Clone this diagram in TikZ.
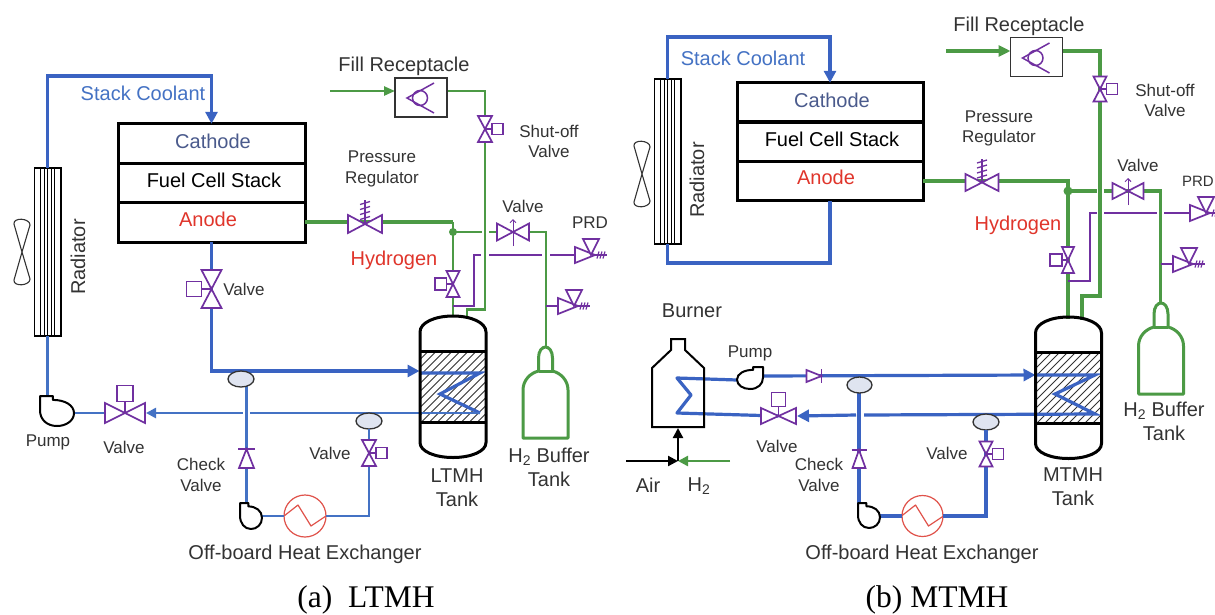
\documentclass[tikz,border=0pt]{standalone}
\usepackage{fontspec}
\setmainfont{Liberation Sans}
\newfontfamily\capfont{Liberation Serif}
\usetikzlibrary{arrows.meta,shapes.geometric}
\definecolor{cblue}{HTML}{3A63C2}
\definecolor{cbluet}{HTML}{4472C4}
\definecolor{cgreen}{HTML}{4C9A45}
\definecolor{cpurple}{HTML}{7030A0}
\definecolor{cred}{HTML}{E0352B}
\definecolor{chx}{HTML}{E0524A}
\definecolor{ctext}{HTML}{333333}
\definecolor{ccath}{HTML}{4A5A8C}
\definecolor{cell}{HTML}{DFE4F0}
\tikzset{
  pb/.style={draw=cblue,line width=3.2pt},
  pbt/.style={draw=cbluet,line width=2.5pt},
  pg/.style={draw=cgreen,line width=3.2pt},
  pgt/.style={draw=cgreen,line width=2.4pt},
  pp/.style={draw=cpurple,line width=2.4pt},
  sym/.style={draw=cpurple,line width=1.7pt,fill=white,line join=miter},
  blk/.style={draw=black,line width=2pt,line join=round},
  tipL/.style={-{Triangle[length=12pt,width=12pt]}},
  tipS/.style={-{Triangle[length=10pt,width=10pt]}},
  stackbox/.style={draw=black,line width=3pt,minimum width=187pt,minimum height=39.5pt,inner sep=0pt,outer sep=0pt},
  radbox/.style={draw=black,line width=1.5pt,minimum width=26.5pt,inner sep=0pt,outer sep=0pt},
  fillbox/.style={draw=ctext,line width=1.2pt,minimum width=52pt,minimum height=39pt,inner sep=0pt,outer sep=0pt,fill=white},
  oval/.style={ellipse,draw=ctext,line width=1.3pt,fill=cell,minimum width=26pt,minimum height=16pt,inner sep=0pt,outer sep=0pt},
  hxc/.style={circle,draw=chx,line width=1.2pt,fill=white,minimum size=42pt,inner sep=0pt,outer sep=0pt},
  lbl/.style={font=\fontsize{17}{20.5}\selectfont,text=ctext,inner sep=0pt,align=center},
  lbg/.style={font=\fontsize{20}{24}\selectfont,text=ctext,inner sep=0pt,align=center},
  capt/.style={font=\capfont\fontsize{31.5}{35}\selectfont,text=black,inner sep=0pt},
}
% vertical bowtie valve: name, pos, half width, half height, side (+1/-1), box size
\newcommand\vvalve[6]{%
  \coordinate (#1) at (#2);
  \begin{scope}[shift={(#2)}]
    \draw[sym] (0,0) -- ({#5*#3},0);
    \draw[sym] ({#5*#3},{-#6/2}) rectangle ({#5*(#3+#6)},{#6/2});
    \draw[sym] (-#3,-#4) -- (#3,-#4) -- (-#3,#4) -- (#3,#4) -- cycle;
  \end{scope}}
% horizontal bowtie: name, pos, half width, half height
\newcommand\hbow[4]{%
  \coordinate (#1) at (#2);
  \begin{scope}[shift={(#2)}]
    \draw[sym] (-#3,-#4) -- (#3,#4) -- (#3,-#4) -- (-#3,#4) -- cycle;
  \end{scope}}
% box on top of a horizontal bowtie: pos, half height, box size
\newcommand\topbox[3]{%
  \begin{scope}[shift={(#1)}]
    \draw[sym] (0,0) -- (0,{-#2-1.5});
    \draw[sym] ({-#3/2},{-#2-1.5}) rectangle ({#3/2},{-#2-1.5-#3});
  \end{scope}}
% regulator spring above a horizontal bowtie
\newcommand\spring[1]{%
  \begin{scope}[shift={(#1)}]
    \draw[cpurple,line width=1.5pt] (0,0) -- (0,-24);
    \foreach \k in {-6,-11,-16,-21} \draw[cpurple,line width=1.3pt] (-5,\k+1.5) -- (5,\k-1.5);
  \end{scope}}
% arrow through a horizontal bowtie
\newcommand\uparw[1]{%
  \draw[cpurple,line width=1pt,-{Straight Barb[length=3pt,width=6pt]}] ([shift={(0,14)}]#1) -- ([shift={(0,-13)}]#1);}
% pressure relief: name, tip position
\newcommand\prdv[2]{%
  \begin{scope}[shift={(#2)}]
    \coordinate (#1) at (-20,0);
    \draw[cpurple,line width=1.5pt] (0,0) -- (12,0);
    \foreach \k in {3,6,9} \draw[cpurple,line width=1.2pt] (\k-1,3.5) -- (\k+1,-3.5);
    \draw[sym] (-20,-8) -- (-20,8) -- (0,0) -- cycle;
    \draw[sym] (-12,-16) -- (4,-16) -- (-4,0) -- cycle;
  \end{scope}}
% check valve: name, pos, rotation, length, half width
\newcommand\chkv[5]{%
  \coordinate (#1) at (#2);
  \begin{scope}[shift={(#2)},rotate=#3]
    \draw[sym] ({-#4/2},-#5) -- ({-#4/2},#5) -- ({#4/2},0) -- cycle;
    \draw[sym] ({#4/2},{-#5-1}) -- ({#4/2},{#5+1});
  \end{scope}}
% pump: pos of flat corner, xscale, yscale
\newcommand\pumpcase[3]{%
  \begin{scope}[shift={(#1)},xscale=#2,yscale=#3]
    \draw[blk,fill=white] (0,0) -- (.38,0) -- (.38,.13) .. controls (.72,.13) and (1,.3) .. (1,.57) .. controls (1,.83) and (.76,1) .. (.5,1) .. controls (.2,1) and (0,.78) .. (0,.48) -- cycle;
  \end{scope}}
% fan
\newcommand\fan[1]{%
  \begin{scope}[shift={(#1)}]
    \draw[draw=ctext,line width=1.1pt] (0,0) -- (-8,-28) .. controls (-9,-35) and (8,-34) .. (8,-27) -- (0,0) -- (-8,28) .. controls (-9,35) and (8,34) .. (8,27) -- cycle;
  \end{scope}}
% hatched bed of a tank: centre
\newcommand\tankbed[1]{%
  \begin{scope}[shift={(#1)}]
    \begin{scope}
      \clip (-33,-35.5) rectangle (33,35.5);
      \foreach \i in {-112,-104,...,48} \draw[ctext,line width=.9pt] (\i,36) -- (\i+72,-36);
    \end{scope}
  \end{scope}}
\newcommand\tankshell[1]{%
  \begin{scope}[shift={(#1)}]
    \draw[draw=black,line width=3pt] (-33,-54.5) .. controls (-33,-64) and (-18,-70.5) .. (0,-70.5) .. controls (18,-70.5) and (33,-64) .. (33,-54.5) -- (33,56) .. controls (33,65) and (18,71) .. (0,71) .. controls (-18,71) and (-33,65) .. (-33,56) -- cycle;
    \draw[draw=black,line width=3pt] (-33,-35.5) -- (33,-35.5);
    \draw[draw=black,line width=3pt] (-33,35.5) -- (33,35.5);
  \end{scope}}
% buffer tank: bottom centre
\newcommand\buftank[1]{%
  \begin{scope}[shift={(#1)}]
    \draw[draw=cgreen,line width=3pt,line join=round] (-22.5,0) -- (-22.5,-48) .. controls (-22.5,-58) and (-15,-65) .. (-7,-67) -- (-7,-80) .. controls (-7,-87) and (-3.5,-91) .. (0,-91) .. controls (3.5,-91) and (7,-87) .. (7,-80) -- (7,-67) .. controls (15,-65) and (22.5,-58) .. (22.5,-48) -- (22.5,0) -- cycle;
    \draw[draw=cgreen,line width=3pt] (-7,-67) -- (7,-67);
  \end{scope}}
% fill receptacle inner symbol
\newcommand\recept[1]{%
  \begin{scope}[shift={(#1)}]
    \draw[cpurple,line width=1.5pt] (13,-14) -- (-14,1) -- (13,16);
    \draw[cpurple,line width=1.5pt] (-1,1) circle (7.5);
  \end{scope}}
\newcommand\hxzig[1]{%
  \begin{scope}[shift={(#1)}]
    \draw[chx,line width=1.2pt,line join=round] (-21,0) -- (-7,-11) -- (6,10) -- (21,0);
  \end{scope}}
\newcommand\radlines[3]{%
  \foreach \k in {-7,-3.5,0,3.5,7} \draw[black,line width=1pt] (#1+\k,#2) -- (#1+\k,#3);}
\begin{document}
\begin{tikzpicture}[x=1pt,y=-1pt]
\fill[white] (0,0) rectangle (1215,614);
\useasboundingbox (0,0) rectangle (1215,614);

%%%%%%%%%%%%%%%% (a) LTMH
\node[stackbox] (aCath) at (211.5,143.5) {};
\node[stackbox] (aCell) at (211.5,183) {};
\node[stackbox] (aAn) at (211.5,222.5) {};
\node[radbox,minimum height=168pt] (aRad) at (47.5,252) {};
\radlines{47.5}{168}{336}
\fan{22,252}
\tankbed{453,386.5}

\coordinate (aC1) at (47.5,76);
\coordinate (aC2) at (211.5,76);
\coordinate (aTkIn) at (419.5,371);
\coordinate (aBend) at (211.5,371);
\coordinate (aZ0) at (420,373);
\coordinate (aZ1) at (480,373);
\coordinate (aZ2) at (440,394);
\coordinate (aZ3) at (480,413);
\coordinate (aGapR) at (250,413);
\coordinate (aGapL) at (242.5,413);
\coordinate (aPump) at (47.5,396);
\coordinate (aPumpOut) at (74,413);
\coordinate (aVin) at (146,413);
\coordinate (aE1b) at (246.5,384);
\coordinate (aP2in) at (246.5,504);
\coordinate (aP2out) at (262,516);
\coordinate (aHXc) at (369,516);
\coordinate (aFillIn) at (330,91);
\coordinate (aFillOut) at (447,91);
\coordinate (aFC) at (485,91);
\coordinate (aFD) at (485,309.5);
\coordinate (aFE) at (467,309.5);
\coordinate (aFF) at (467,318);
\coordinate (aReg1) at (453,222);
\coordinate (aDot) at (453,232);
\coordinate (aTkTop) at (453,316);
\coordinate (aGh1) at (482,232);
\coordinate (aGh2) at (489,232);
\coordinate (aBh) at (546,232);
\coordinate (aBtop) at (546,347);
\coordinate (aPj) at (453,306);
\coordinate (aPc) at (474,306);
\coordinate (aPd) at (474,255);
\coordinate (aPg1) at (481,255);
\coordinate (aPg2) at (489,255);
\coordinate (aPg3) at (542,255);
\coordinate (aPg4) at (550,255);
\coordinate (aStub) at (546,306);
\coordinate (aVH) at (513,232);
\coordinate (aV3) at (369,453);
\coordinate (aV1) at (211.5,289);
\coordinate (aV2) at (125,413);
\coordinate (aV4) at (453,284);
\coordinate (aV5) at (485,129);
\coordinate (aReg) at (365,224);
\prdv{aPR1}{595,255}
\prdv{aPR2}{578,306}

\draw[pb,tipL] (aRad.north) -- (aC1) -- (aC2) -- (aCath.north);
\draw[pb,tipL] (aAn.south) -- (aV1) -- (aBend) -- (aTkIn);
\draw[pb] (aZ0) -- (aZ1) -- (aZ2) -- (aZ3);
\draw[pbt] (aZ3) -- (aGapR);
\draw[pbt,tipS] (aGapL) -- (aVin);
\draw[pbt] (aRad.south) -- (aPump);
\draw[pbt] (aPumpOut) -- (aV2);
\draw[pbt] (aE1b) -- (aP2in);

\node[oval] (aOv1) at (241,379) {};
\node[oval] (aOv2) at (369,421) {};
\node[hxc] (aHX) at (305,516) {};
\hxzig{305,516}
\draw[pbt] (aP2out) -- (aHX.west);
\draw[pbt] (aHX.east) -- (aHXc) -- (aV3) -- (aOv2.south);

\draw[pg] (aAn.east |- aReg1) -- (aReg1);
\draw[pgt] (aReg1) -- (aDot) -- (aV4) -- (aTkTop);
\draw[pgt,-{Triangle[length=11pt,width=9pt]}] (aFillIn) -- (395,91);
\draw[pgt] (aFillOut) -- (aFC) -- (aV5) -- (aFD) -- (aFE) -- (aFF);
\draw[pgt] (aDot) -- (aGh1);
\draw[pgt] (aGh2) -- (aVH) -- (aBh) -- (aBtop);
\fill[cgreen] (aDot) circle (4);
\draw[pp] (aPj) -- (aPc) -- (aPd) -- (aPg1);
\draw[pp] (aPg2) -- (aPg3);
\draw[pp] (aPg4) -- (aPR1);
\draw[draw=cpurple,line width=1.7pt] (aStub) -- (aPR2);

\node[fillbox] (aFill) at (421,97.5) {};
\recept{421,97}
\vvalve{aV1n}{211.5,289}{10}{19}{-1}{15}
\hbow{aV2n}{125,413}{20}{10}
\topbox{125,413}{10}{16}
\vvalve{aV3n}{369,453}{7}{13}{1}{11}
\vvalve{aV4n}{453,284}{6.5}{13}{-1}{11.5}
\vvalve{aV5n}{485,129}{7}{13}{1}{11}
\hbow{aVHn}{513,232}{16}{8.5}
\uparw{aVHn}
\hbow{aRegn}{365,224}{17}{9}
\spring{365,224}
\chkv{aCk}{246.5,458.5}{90}{19}{7.5}
\pumpcase{40,396}{34}{30}
\pumpcase{240,503}{22}{26}
\tankshell{453,386.5}
\buftank{545.5,438}

\node[lbg,text=cbluet] (tA1) at (143,93) {Stack Coolant};
\node[lbg,text=ccath] (tA2) at (213,141) {Cathode};
\node[lbg,text=black] (tA3) at (214,180) {Fuel Cell Stack};
\node[lbg,text=cred] (tA4) at (208,219) {Anode};
\node[lbg,rotate=90] (tA5) at (78,257) {Radiator};
\node[lbg] (tA6) at (404,66) {Fill Receptacle};
\node[lbl] (tA7) at (382,169) {Pressure\\Regulator};
\node[lbl] (tA8) at (549,141.5) {Shut-off\\Valve};
\node[lbl] (tA9) at (523,206) {Valve};
\node[lbl] (tA10) at (590,223) {PRD};
\node[lbg,text=cred] (tA11) at (394,260) {Hydrogen};
\node[lbl] (tA12) at (244,289) {Valve};
\node[lbl] (tA13) at (48,442) {Pump};
\node[lbl] (tA14) at (124,447) {Valve};
\node[lbl] (tA15) at (201,475) {Check\\Valve};
\node[lbl] (tA16) at (330,453) {Valve};
\node[lbg] (tA17) at (305,554) {Off-board Heat Exchanger};
\node[lbg] (tA18) at (457,487.5) {LTMH\\Tank};
\node[lbg] (tA19) at (549,467) {H\textsubscript{2} Buffer\\Tank};
\node[capt] (tA20) at (366,599.5) {(a)\ \ LTMH};

%%%%%%%%%%%%%%%% (b) MTMH
\node[stackbox,minimum width=186pt] (bCath) at (830,102.5) {};
\node[stackbox,minimum width=186pt] (bCell) at (830,141.5) {};
\node[stackbox,minimum width=186pt] (bAn) at (830,181) {};
\node[radbox,minimum height=165pt] (bRad) at (667.5,161.5) {};
\radlines{667.5}{79}{244}
\fan{642,174}
\tankbed{1068.5,387.5}

\coordinate (bC1) at (667.5,37);
\coordinate (bC2) at (830,37);
\coordinate (bC3) at (667.5,263);
\coordinate (bC4) at (830,263);
\coordinate (bTkIn) at (1035.5,375);
\coordinate (bZ0) at (1036,375);
\coordinate (bZ1) at (1095,375);
\coordinate (bZ2) at (1055,394);
\coordinate (bZ3) at (1095,414);
\coordinate (bGapR) at (864,415);
\coordinate (bGapL) at (856,415);
\coordinate (bVin) at (797,416);
\coordinate (bPOut) at (763,376);
\coordinate (bCkIn) at (814,376);
\coordinate (bPin) at (737,380);
\coordinate (bCoil1) at (677,378);
\coordinate (bCoil2) at (691,395);
\coordinate (bCoil3) at (677,413);
\coordinate (bVal) at (778.5,416);
\coordinate (bE1b) at (859,392);
\coordinate (bP2in) at (859,504);
\coordinate (bP2out) at (880,516);
\coordinate (bHXc) at (986,516);
\coordinate (bV3) at (986,454);
\coordinate (bFillIn) at (946,51);
\coordinate (bFillOut) at (1062,51);
\coordinate (bFC) at (1100,51);
\coordinate (bFD) at (1100,296);
\coordinate (bFE) at (1082,296);
\coordinate (bFF) at (1082,320);
\coordinate (bReg1) at (1068,181);
\coordinate (bDot) at (1068,191);
\coordinate (bTkTop) at (1068,319);
\coordinate (bGh1) at (1097,191);
\coordinate (bGh2) at (1104,191);
\coordinate (bBh) at (1160.5,191);
\coordinate (bBtop) at (1160.5,303);
\coordinate (bPj) at (1068,281);
\coordinate (bPc) at (1090,281);
\coordinate (bPd) at (1090,213);
\coordinate (bPg1) at (1097,213);
\coordinate (bPg2) at (1104,213);
\coordinate (bPg3) at (1157,213);
\coordinate (bPg4) at (1164,213);
\coordinate (bStub) at (1160.5,264);
\coordinate (bVH) at (1128,191);
\coordinate (bV4) at (1068,260);
\coordinate (bV5) at (1100,89);
\coordinate (bAirA) at (626,461);
\coordinate (bAirB) at (678,461);
\coordinate (bAirC) at (678,428);
\coordinate (bH2A) at (730,461);
\prdv{bPR1}{1210,213}
\prdv{bPR2}{1193,264}

\draw[pb,tipL] (bRad.north) -- (bC1) -- (bC2) -- (bCath.north);
\draw[pb] (bRad.south) -- (bC3) -- (bC4) -- (bAn.south);
\draw[pb,tipL] (bPOut) -- (bTkIn);
\draw[pb] (bZ0) -- (bZ1) -- (bZ2) -- (bZ3) -- (bGapR);
\draw[pb,tipL] (bGapL) -- (bVin);
\draw[pb,line join=round] (bPin) -- (bCoil1) -- (bCoil2) -- (bCoil3) -- (bVal);
\draw[pb] (bE1b) -- (bP2in);

\node[oval,minimum width=25pt] (bOv1) at (859.5,385) {};
\node[oval] (bOv2) at (986,422) {};
\node[hxc,minimum size=41pt] (bHX) at (922.5,516) {};
\hxzig{922.5,516}
\draw[pb] (bP2out) -- (bHX.west);
\draw[pb] (bHX.east) -- (bHXc) -- (bV3) -- (bOv2.south);

\draw[pg] (bAn.east) -- (bReg1) -- (bDot) -- (bV4) -- (bTkTop);
\draw[pg,-{Triangle[length=12pt,width=11pt]}] (bFillIn) -- (1010.5,51);
\draw[pg] (bFillOut) -- (bFC) -- (bV5) -- (bFD) -- (bFE) -- (bFF);
\draw[pg] (bDot) -- (bGh1);
\draw[pg] (bGh2) -- (bVH) -- (bBh) -- (bBtop);
\fill[cgreen] (bDot) circle (4.5);
\draw[pp] (bPj) -- (bPc) -- (bPd) -- (bPg1);
\draw[pp] (bPg2) -- (bPg3);
\draw[pp] (bPg4) -- (bPR1);
\draw[draw=cpurple,line width=1.7pt] (bStub) -- (bPR2);

\draw[blk,line join=miter] (652,427) -- (652,368) -- (671,350) -- (671,339) -- (685,339) -- (685,350) -- (704,368) -- (704,427) -- cycle;
\draw[draw=black,line width=2.2pt,tipS] (bAirA) -- (bAirB);
\draw[draw=black,line width=2.2pt,tipS] (bAirB) -- (bAirC);
\draw[pgt,tipS] (bH2A) -- (bAirB);

\node[fillbox] (bFill) at (1036.5,57) {};
\recept{1036.5,57}
\chkv{bCk1}{814,376}{0}{15}{6}
\hbow{bValn}{778.5,416}{17.5}{8}
\topbox{778.5,416}{8}{14}
\vvalve{bV3n}{986,454}{6.5}{12.5}{1}{11}
\vvalve{bV4n}{1068,260}{6}{13}{-1}{12}
\vvalve{bV5n}{1100,89}{6.5}{12.5}{1}{11}
\hbow{bVHn}{1128,191}{15.5}{8}
\uparw{bVHn}
\hbow{bRegn}{982,182.5}{16.5}{8.5}
\spring{982,182.5}
\chkv{bCk2}{859,459}{90}{18}{6.5}
\pumpcase{763,367}{-26}{22}
\pumpcase{858,503}{22}{25}
\tankshell{1068.5,387.5}
\buftank{1161,394}

\node[lbg,text=cbluet] (tB1) at (743,58) {Stack Coolant};
\node[lbg,text=ccath] (tB2) at (832,100) {Cathode};
\node[lbg,text=black] (tB3) at (832,139) {Fuel Cell Stack};
\node[lbg,text=cred] (tB4) at (826,177) {Anode};
\node[lbg,rotate=90] (tB5) at (697,180) {Radiator};
\node[lbg] (tB6) at (1019,26) {Fill Receptacle};
\node[lbl] (tB7) at (999,128.5) {Pressure\\Regulator};
\node[lbl] (tB8) at (1165,100.5) {Shut-off\\Valve};
\node[lbl] (tB9) at (1138,165) {Valve};
\node[lbl,font=\fontsize{15}{18}\selectfont,anchor=east] (tB10) at (1214,181) {PRD};
\node[lbg,text=cred] (tB11) at (1018,225) {Hydrogen};
\node[lbg] (tB12) at (692,311) {Burner};
\node[lbl] (tB13) at (750,353) {Pump};
\node[lbl] (tB14) at (777,446) {Valve};
\node[lbl] (tB15) at (819,475) {Check\\Valve};
\node[lbl] (tB16) at (947,453) {Valve};
\node[lbg] (tB17) at (922,554) {Off-board Heat Exchanger};
\node[lbg] (tB18) at (1073,486.5) {MTMH\\Tank};
\node[lbg] (tB19) at (1164,421.5) {H\textsubscript{2} Buffer\\Tank};
\node[lbg] (tB20) at (648,485) {Air};
\node[lbg] (tB21) at (699,486) {H\textsubscript{2}};
\node[capt] (tB22) at (937,599.5) {(b) MTMH};
\end{tikzpicture}
\end{document}
